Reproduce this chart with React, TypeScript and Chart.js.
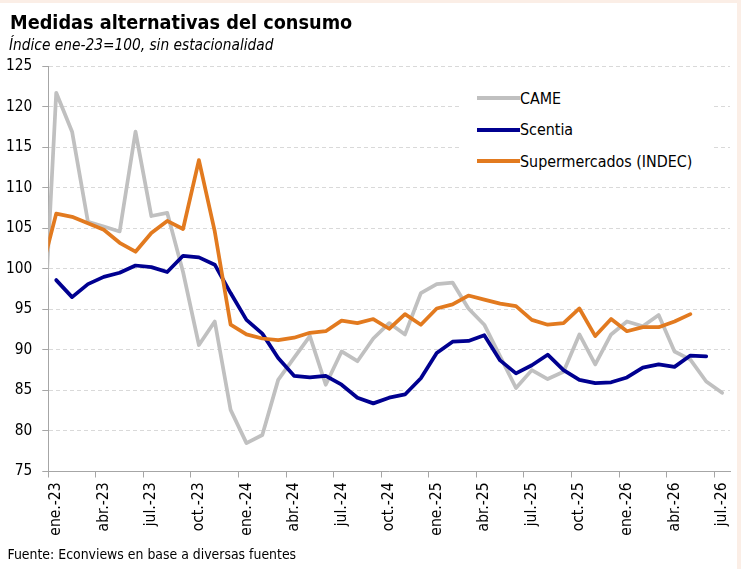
import React, { useEffect, useRef } from 'react';
import { Chart, registerables } from 'chart.js';

Chart.register(...registerables);

// Months, one point per month (dic-22 is only the lead-in point, clipped at the axis)
const MONTHS = [
  'dic-22',
  'ene-23', 'feb-23', 'mar-23', 'abr-23', 'may-23', 'jun-23', 'jul-23', 'ago-23', 'sep-23', 'oct-23', 'nov-23', 'dic-23',
  'ene-24', 'feb-24', 'mar-24', 'abr-24', 'may-24', 'jun-24', 'jul-24', 'ago-24', 'sep-24', 'oct-24', 'nov-24', 'dic-24',
  'ene-25', 'feb-25', 'mar-25', 'abr-25', 'may-25', 'jun-25', 'jul-25', 'ago-25', 'sep-25', 'oct-25', 'nov-25', 'dic-25',
  'ene-26', 'feb-26', 'mar-26', 'abr-26', 'may-26', 'jun-26', 'jul-26',
];

const CAME: (number | null)[] = [
  83.7,
  121.7, 116.9, 105.8, 105.2, 104.6, 116.9, 106.5, 106.9, 99.6, 90.6, 93.5, 82.6,
  78.5, 79.5, 86.3, 89.0, 91.7, 85.7, 89.8, 88.6, 91.4, 93.3, 91.9, 97.0,
  98.1, 98.3, 95.1, 93.1, 89.2, 85.3, 87.5, 86.4, 87.3, 91.9, 88.2, 91.9,
  93.5, 92.9, 94.3, 89.8, 88.8, 86.1, 84.7,
];

const SCENTIA: (number | null)[] = [
  null,
  98.6, 96.5, 98.1, 99.0, 99.5, 100.4, 100.2, 99.6, 101.6, 101.4, 100.5, 97.0,
  93.7, 92.0, 89.0, 86.8, 86.6, 86.8, 85.7, 84.1, 83.4, 84.1, 84.5, 86.5,
  89.6, 91.0, 91.1, 91.8, 88.7, 87.1, 88.1, 89.4, 87.5, 86.3, 85.9, 86.0,
  86.6, 87.8, 88.2, 87.9, 89.3, 89.2, null,
];

const SUPER: (number | null)[] = [
  99.2,
  106.8, 106.4, 105.6, 104.8, 103.2, 102.1, 104.4, 105.9, 104.9, 113.4, 104.6, 93.1,
  91.9, 91.4, 91.2, 91.5, 92.1, 92.3, 93.6, 93.3, 93.8, 92.6, 94.4, 93.1,
  95.1, 95.6, 96.7, 96.2, 95.7, 95.4, 93.7, 93.1, 93.3, 95.1, 91.7, 93.8,
  92.3, 92.8, 92.8, 93.5, 94.4, null, null,
];

const TICK_MONTHS = [
  'ene-23', 'abr-23', 'jul-23', 'oct-23', 'ene-24', 'abr-24', 'jul-24', 'oct-24',
  'ene-25', 'abr-25', 'jul-25', 'oct-25', 'ene-26', 'abr-26', 'jul-26',
];
const TICK_LABELS = [
  'ene.-23', 'abr.-23', 'jul.-23', 'oct.-23', 'ene.-24', 'abr.-24', 'jul.-24', 'oct.-24',
  'ene.-25', 'abr.-25', 'jul.-25', 'oct.-25', 'ene.-26', 'abr.-26', 'jul.-26',
];

const Y_MIN = 75;
const Y_MAX = 125;
const Y_STEP = 5;

const SERIES_NAMES = ['CAME', 'Scentia', 'Supermercados (INDEC)'];
const COLORS = ['#c0c0c0', '#000090', '#e27a1f'];

const FONT = '"DejaVu Sans Condensed", "DejaVu Sans", sans-serif';

export default function App() {
  const ref = useRef<HTMLCanvasElement>(null);

  useEffect(() => {
    const canvas = ref.current;
    if (!canvas) return;
    // month "i" in MONTHS spans [i-1, i] on the axis, plotted at mid-month
    const toPts = (arr: (number | null)[]) => arr.map((v, i) => ({ x: i - 0.5, y: v }));
    const series = [CAME, SCENTIA, SUPER];
    const chart = new Chart(canvas, {
      type: 'line',
      data: {
        datasets: series.map((s, k) => ({
          label: SERIES_NAMES[k],
          data: toPts(s) as any,
          borderColor: COLORS[k],
          backgroundColor: COLORS[k],
          order: 3 - k,
          spanGaps: false,
        })),
      },
      options: {
        animation: false,
        responsive: false,
        maintainAspectRatio: false,
        layout: { padding: { top: 66, right: 11, left: 0, bottom: 0 } },
        plugins: { legend: { display: false }, tooltip: { enabled: false } },
        elements: {
          point: { radius: 0 },
          line: { tension: 0, borderWidth: 3.75, borderJoinStyle: 'round', borderCapStyle: 'round' },
        },
        scales: {
          x: {
            type: 'linear',
            min: 0,
            max: MONTHS.length - 1,
            afterFit: (s: any) => { s.height = 97.5; },
            afterBuildTicks: (s: any) => {
              s.ticks = TICK_MONTHS.map((m) => ({ value: MONTHS.indexOf(m) - 1 }));
            },
            ticks: {
              autoSkip: false,
              minRotation: 90,
              maxRotation: 90,
              labelOffset: 8,
              padding: 5,
              color: '#000',
              font: { family: FONT, size: 15.5 },
              callback: (_v: any, i: number) => TICK_LABELS[i],
            },
            grid: { drawOnChartArea: false, drawTicks: true, tickLength: 6, tickColor: '#a6a6a6' },
            border: { display: true, color: '#a6a6a6', width: 1 },
          },
          y: {
            min: Y_MIN,
            max: Y_MAX,
            afterFit: (s: any) => { s.width = 48.3; },
            ticks: {
              stepSize: Y_STEP,
              padding: 10,
              color: '#000',
              font: { family: FONT, size: 15.3 },
            },
            grid: {
              color: (c: any) => (c.tick && c.tick.value === Y_MIN ? 'rgba(0,0,0,0)' : '#d9d9d9'),
              tickColor: '#a6a6a6',
              tickLength: 6,
              lineWidth: 1,
            },
            border: { display: true, color: '#a6a6a6', width: 1, dash: [4, 3] },
          },
        },
      },
    });
    return () => chart.destroy();
  }, []);

  const legendRows = [98, 129.5, 161];

  return (
    <div style={{ position: 'absolute', left: 0, top: 0, width: 741, height: 569, background: '#fff', overflow: 'hidden' }}>
      <canvas ref={ref} width={741} height={569} style={{ position: 'absolute', left: 0, top: 0, width: 741, height: 569 }} />
      <div style={{ position: 'absolute', left: 0, top: 0, width: 741, height: 3, background: '#fbeee6' }} />
      <div style={{ position: 'absolute', left: 737, top: 0, width: 4, height: 569, background: '#fbeee6' }} />
      <div style={{ position: 'absolute', left: 10, top: 13, font: `bold 19.7px ${FONT}`, lineHeight: '20px', color: '#000', whiteSpace: 'nowrap' }}>
        Medidas alternativas del consumo
      </div>
      <div style={{ position: 'absolute', left: 9, top: 37, font: `italic 15.3px ${FONT}`, lineHeight: '16px', color: '#000', whiteSpace: 'nowrap' }}>
        Índice ene-23=100, sin estacionalidad
      </div>
      <div style={{ position: 'absolute', left: 7.5, top: 547, font: `13.9px ${FONT}`, lineHeight: '14px', color: '#000', whiteSpace: 'nowrap' }}>
        Fuente: Econviews en base a diversas fuentes
      </div>
      <div style={{ position: 'absolute', left: 462, top: 78, width: 251, height: 102, background: '#fff' }}>
        {SERIES_NAMES.map((name, k) => (
          <div key={name}>
            <div style={{ position: 'absolute', left: 477 - 462, top: legendRows[k] - 78 - 2, width: 43, height: 4, background: COLORS[k] }} />
            <div style={{ position: 'absolute', left: 520 - 462, top: legendRows[k] - 78 - 9.5, font: `15.9px ${FONT}`, lineHeight: '19px', color: '#000', whiteSpace: 'nowrap' }}>
              {name}
            </div>
          </div>
        ))}
      </div>
    </div>
  );
}
